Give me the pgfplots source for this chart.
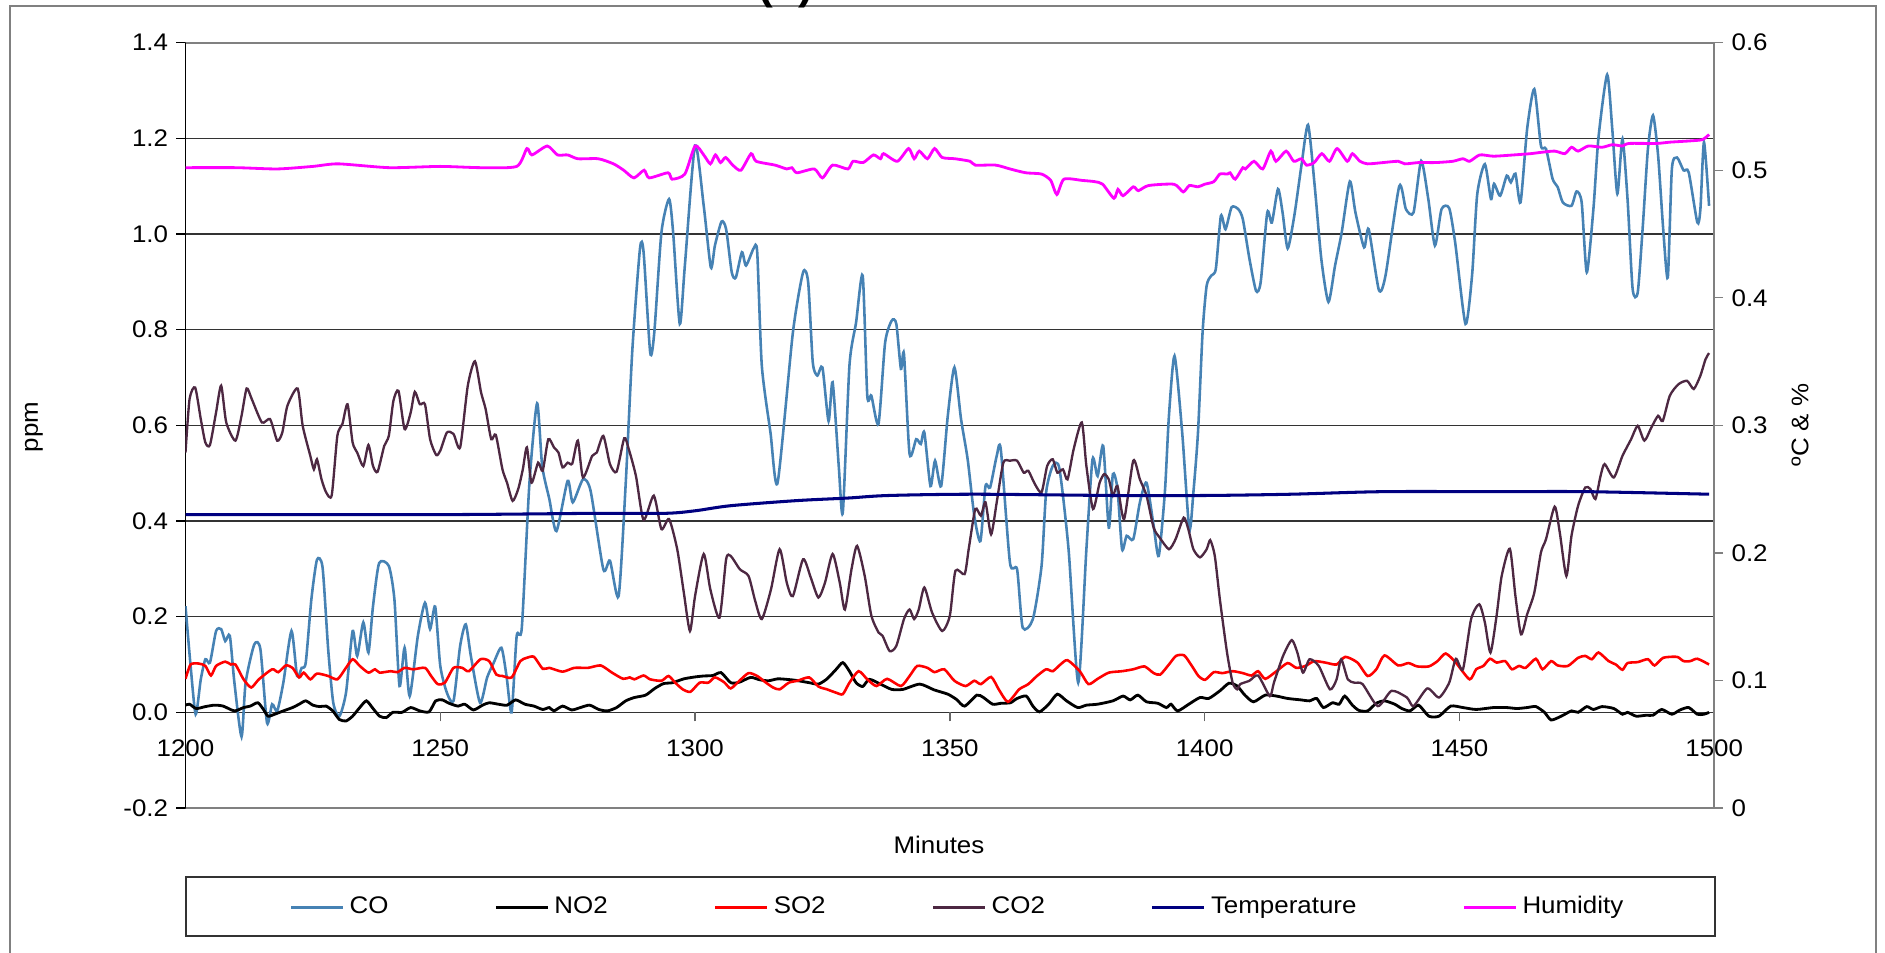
\documentclass[border=0pt]{standalone}
\usepackage{fontspec}
\setmainfont{Liberation Sans}[FakeStretch=1.08]
\usepackage{pgfplots}
\pgfplotsset{compat=1.18}

\definecolor{coblue}{RGB}{70,130,180}
\definecolor{cotwo}{RGB}{77,40,66}
\definecolor{tempblue}{RGB}{0,0,128}
\definecolor{humid}{RGB}{255,0,255}
\definecolor{sored}{RGB}{255,0,0}
\definecolor{framegray}{RGB}{128,128,128}

\begin{document}
\fontsize{10.24pt}{12pt}\selectfont
\begin{tikzpicture}
% chart frame (bottom edge lies outside the page)
\draw[framegray, line width=0.85pt] (0.15,-14.6) -- (0.15,-0.09) -- (28.14,-0.09) -- (28.14,-14.6);

\begin{axis}[
    at={(2.7825cm,-12.12cm)}, anchor=south west,
    scale only axis, width=22.93cm, height=11.48cm,
    xmin=1200, xmax=1500, ymin=-0.2, ymax=1.4,
    axis x line=middle, axis y line=left,
    x axis line style={draw=none},
    y axis line style={-, black, line width=0.6pt},
    hide obscured x ticks=false, hide obscured y ticks=false,
    xtick={1200,1250,1300,1350,1400,1450,1500},
    xticklabels={1200,1250,1300,1350,1400,1450,1500},
    xticklabel style={yshift=-0.15cm},
    ytick={-0.2,0,0.2,0.4,0.6,0.8,1.0,1.2,1.4},
    yticklabels={-0.2,0.0,0.2,0.4,0.6,0.8,1.0,1.2,1.4},
    tick align=outside, major tick length=0.135cm,
    x tick style={black!60, line width=0.6pt},
    y tick style={black, line width=0.6pt},
    ymajorgrids, major grid style={black!80, line width=0.45pt},
    legend columns=6,
    legend style={at={(0.5043,-0.1294)}, anchor=center, draw=none, fill=none,
        nodes={inner sep=0pt},
        /tikz/every even column/.append style={column sep=1.59cm},
        /tikz/every odd column/.append style={column sep=0.075cm}},
    legend image code/.code={\draw[#1, line width=1.3pt] (0cm,0cm) -- (0.78cm,0cm);},
]
% CO
\addplot[coblue, line width=1.1pt, smooth, tension=0.4] coordinates {
(1200,0.222) (1201,0.097) (1202,-0.004) (1203,0.069) (1203.9,0.111) (1204.8,0.104)
(1206,0.170) (1207,0.174) (1207.8,0.149) (1208.7,0.160) (1209.6,0.062) (1211,-0.051)
(1211.8,0.062) (1213.5,0.142) (1214.7,0.132) (1216,-0.022) (1217,0.017) (1218,0.003)
(1219.2,0.062) (1220.8,0.170) (1221.9,0.076) (1222.8,0.093) (1223.6,0.104) (1224.7,0.236)
(1225.8,0.319) (1226.9,0.303) (1228,0.132) (1229,0.020) (1230.2,-0.008) (1231.5,0.041)
(1232.8,0.170) (1233.7,0.118) (1234.9,0.188) (1235.9,0.125) (1236.8,0.222) (1238,0.312)
(1239.9,0.306) (1241,0.236) (1242,0.055) (1243,0.135) (1244,0.034) (1245.6,0.160)
(1247,0.229) (1248,0.174) (1249,0.221) (1250,0.097) (1251.3,0.041) (1252.6,0.024)
(1253.9,0.139) (1255,0.184) (1256,0.118) (1257.8,0.020) (1259.2,0.073) (1260.5,0.104)
(1262,0.135) (1263,0.076) (1264,0.000) (1265,0.160) (1266,0.177) (1267.5,0.480)
(1269,0.646) (1270,0.515) (1271.4,0.446) (1272.8,0.379) (1275,0.484) (1276,0.439)
(1278,0.487) (1279.5,0.463) (1282,0.299) (1283.3,0.317) (1285,0.243) (1286.4,0.480)
(1287.7,0.759) (1289.2,0.970) (1289.9,0.962) (1291.2,0.752) (1292,0.794) (1293.4,1.003)
(1294.9,1.073) (1295.7,1.003) (1297,0.812) (1298,0.934) (1300,1.185) (1301.7,1.059)
(1303.1,0.930) (1303.9,0.976) (1305.2,1.026) (1306.1,1.010) (1307.2,0.920) (1308,0.909)
(1309.2,0.962) (1310,0.934) (1311.5,0.970) (1312.2,0.962) (1313.1,0.725) (1314.8,0.585)
(1316.2,0.480) (1319.2,0.794) (1321.2,0.920) (1322.2,0.899) (1323.1,0.732) (1324,0.704)
(1325,0.721) (1326.2,0.609) (1327,0.690) (1328.2,0.515) (1329,0.418) (1330.3,0.725)
(1331.6,0.815) (1332.9,0.913) (1333.8,0.662) (1334.6,0.662) (1336,0.603) (1337.3,0.773)
(1338.6,0.819) (1339.5,0.812) (1340.4,0.718) (1341,0.749) (1342.1,0.540) (1343.4,0.571)
(1344.3,0.561) (1345,0.585) (1346.2,0.473) (1347.1,0.526) (1348.3,0.473) (1349.6,0.620)
(1350.9,0.721) (1352.2,0.613) (1353.5,0.529) (1354.8,0.411) (1356,0.358) (1357,0.473)
(1357.9,0.470) (1359.2,0.536) (1360,0.550) (1361.8,0.313) (1363.2,0.299) (1364.3,0.177)
(1366.3,0.195) (1368,0.306) (1368.9,0.460) (1370.2,0.515) (1371.5,0.510) (1373.3,0.341)
(1375.2,0.062) (1376.8,0.341) (1378,0.529) (1379,0.494) (1380.1,0.557) (1381.2,0.386)
(1382,0.498) (1382.9,0.467) (1383.8,0.341) (1384.7,0.369) (1386,0.362) (1387.3,0.439)
(1388.6,0.480) (1390,0.390) (1391,0.327) (1392.2,0.460) (1393,0.620) (1394.1,0.745)
(1395.6,0.585) (1397,0.383) (1397.8,0.460) (1398.7,0.585) (1399.6,0.794) (1400.4,0.892)
(1401.3,0.913) (1402.2,0.927) (1403.2,1.038) (1404.1,1.010) (1405.3,1.056) (1406.6,1.052)
(1407.5,1.031) (1408.8,0.948) (1410.1,0.881) (1411,0.899) (1412.3,1.045) (1413.2,1.024)
(1414.4,1.094) (1415.3,1.045) (1416.3,0.970) (1417.6,1.038) (1419,1.143) (1420.3,1.228)
(1421.6,1.101) (1422.9,0.948) (1424.3,0.858) (1425.6,0.934) (1426.9,1.003) (1428.5,1.110)
(1429.6,1.045) (1431.3,0.972) (1432.2,1.010) (1434.2,0.883) (1435.5,0.913) (1438.2,1.100)
(1439.5,1.052) (1441,1.045) (1442.5,1.153) (1443.9,1.073) (1445.2,0.976) (1446.5,1.052)
(1448,1.054) (1449.2,0.980) (1451.2,0.812) (1452.5,0.915) (1453.5,1.083) (1455,1.146)
(1456.2,1.073) (1456.8,1.105) (1458,1.080) (1459.3,1.122) (1460.1,1.108) (1461,1.126)
(1462,1.066) (1463.3,1.220) (1464.7,1.303) (1466,1.185) (1467,1.178) (1468.3,1.115)
(1469.3,1.098) (1470.3,1.066) (1472,1.059) (1473,1.089) (1474,1.066) (1475,0.920)
(1476.3,1.052) (1477.3,1.202) (1479,1.333) (1480,1.220) (1481,1.084) (1482,1.199)
(1483,1.073) (1484,0.885) (1485,0.878) (1486,1.017) (1487,1.178) (1488,1.248)
(1489,1.164) (1490,1.010) (1490.9,0.909) (1491.7,1.136) (1492.7,1.160) (1494,1.133)
(1495,1.129) (1496.7,1.024) (1497.3,1.052) (1498,1.192) (1499,1.059)
};
\addlegendentry{CO}
% NO2
\addplot[black, line width=1.2pt, smooth, tension=0.4] coordinates {
(1200,0.015) (1200.8,0.017) (1202.1,0.008) (1203.9,0.012) (1205.7,0.015) (1207.4,0.013)
(1209.6,0.003) (1211.4,0.010) (1212.7,0.013) (1214.2,0.020) (1215.3,0.006) (1216.2,-0.008)
(1217.5,-0.004) (1219.2,0.003) (1221,0.010) (1222.3,0.017) (1223.6,0.024) (1225,0.015)
(1226.3,0.012) (1227.6,0.013) (1228.9,0.003) (1230.2,-0.015) (1231.5,-0.018) (1232.8,-0.008)
(1234.2,0.010) (1235.5,0.024) (1236.8,0.008) (1238.1,-0.008) (1239.4,-0.011) (1240.7,0.000)
(1242.5,0.000) (1244.2,0.010) (1246,0.003) (1247.8,0.001) (1249.1,0.024) (1250.4,0.026)
(1251.7,0.019) (1253.5,0.013) (1254.8,0.017) (1256.5,0.005) (1258.3,0.015) (1259.6,0.020)
(1261.4,0.017) (1263.1,0.015) (1264.8,0.026) (1266.6,0.017) (1268.4,0.013) (1270.1,0.006)
(1271.4,0.010) (1272.3,0.003) (1274,0.013) (1275.8,0.005) (1277.5,0.010) (1279.3,0.015)
(1281.1,0.006) (1282.8,0.003) (1284.6,0.010) (1286.4,0.024) (1288.1,0.031) (1290.3,0.036)
(1292.1,0.050) (1293.8,0.060) (1295.6,0.062) (1297.8,0.070) (1300,0.074) (1301.7,0.076)
(1303.5,0.077) (1305.1,0.083) (1307,0.062) (1308.7,0.063) (1310.9,0.073) (1312.7,0.068)
(1314.4,0.066) (1316.2,0.070) (1317.9,0.069) (1319.7,0.067) (1322.4,0.062) (1324.2,0.059)
(1325.9,0.070) (1327.7,0.090) (1329,0.104) (1330.3,0.086) (1331.6,0.062) (1332.9,0.054)
(1334.2,0.069) (1336.4,0.059) (1338.6,0.048) (1340.8,0.048) (1344.1,0.059) (1346.9,0.047)
(1349.6,0.038) (1351.3,0.027) (1352.9,0.013) (1355.3,0.036) (1356.6,0.031) (1358.4,0.017)
(1360.1,0.019) (1361.9,0.020) (1363.2,0.029) (1365,0.034) (1366.3,0.013) (1367.6,0.001)
(1369.4,0.017) (1371.1,0.038) (1372.9,0.024) (1375.1,0.010) (1376.8,0.015) (1379,0.017)
(1382,0.024) (1384,0.034) (1385.4,0.026) (1386.9,0.036) (1388.6,0.022) (1390.8,0.019)
(1392.5,0.010) (1393.4,0.017) (1394.7,0.003) (1396.9,0.017) (1399.1,0.031) (1400.8,0.029)
(1403,0.045) (1404.8,0.061) (1406.4,0.055) (1407.9,0.036) (1409.6,0.022) (1411.9,0.036)
(1414.1,0.034) (1416.3,0.029) (1418.9,0.026) (1420.6,0.024) (1422,0.029) (1423.3,0.010)
(1425.1,0.020) (1426.4,0.017) (1427.5,0.034) (1429,0.015) (1430.3,0.004) (1432,0.003)
(1433.7,0.019) (1435.3,0.024) (1437.3,0.017) (1438.7,0.008) (1440.3,0.003) (1442,0.015)
(1444,-0.008) (1446,-0.008) (1448.3,0.013) (1450.7,0.010) (1453.3,0.006) (1456.7,0.010)
(1459.3,0.010) (1461.3,0.008) (1463.3,0.010) (1465,0.012) (1466.7,0.000) (1468,-0.016)
(1470,-0.008) (1472,0.003) (1473.3,0.000) (1475,0.012) (1476.3,0.006) (1478,0.012)
(1480.3,0.008) (1482,-0.004) (1483,0.000) (1484.7,-0.008) (1486.7,-0.006) (1488,-0.006)
(1489.7,0.006) (1491.7,-0.004) (1493.3,0.005) (1495,0.010) (1496.7,-0.004) (1498,-0.004)
(1499,0.000)
};
\addlegendentry{NO2}
% SO2
\addplot[sored, line width=1.1pt, smooth, tension=0.4] coordinates {
(1200,0.070) (1201,0.100) (1202.6,0.102) (1203.9,0.097) (1205,0.077) (1206,0.097)
(1207.8,0.106) (1208.9,0.100) (1209.8,0.100) (1211.4,0.069) (1212.9,0.052) (1214.4,0.069)
(1217,0.090) (1218.2,0.084) (1219.7,0.098) (1221,0.093) (1222.3,0.073) (1223.2,0.083)
(1224.5,0.069) (1225.8,0.081) (1228,0.076) (1229.8,0.069) (1231.3,0.090) (1232.8,0.111)
(1234.2,0.097) (1235.9,0.083) (1237.2,0.090) (1238.1,0.083) (1240.3,0.086) (1241.6,0.084)
(1243,0.093) (1244.7,0.090) (1247,0.093) (1248.2,0.076) (1249.5,0.059) (1250.9,0.062)
(1252.6,0.093) (1254.3,0.093) (1255.6,0.086) (1257.9,0.111) (1259.6,0.107) (1261,0.079)
(1262.2,0.076) (1264,0.073) (1265.7,0.107) (1267,0.114) (1268.4,0.116) (1270.1,0.091)
(1271.4,0.093) (1274,0.085) (1276.3,0.093) (1279,0.093) (1281.5,0.098) (1283.7,0.083)
(1285.9,0.070) (1287.2,0.073) (1288.1,0.069) (1289.9,0.077) (1291.2,0.069) (1293.4,0.066)
(1294.8,0.076) (1296.1,0.062) (1297.6,0.048) (1299.1,0.043) (1300.9,0.062) (1302.6,0.062)
(1303.9,0.073) (1305.7,0.063) (1307,0.050) (1308.7,0.066) (1310.5,0.082) (1312.2,0.076)
(1313.8,0.063) (1315.3,0.052) (1316.6,0.048) (1318.4,0.062) (1320.1,0.066) (1322.4,0.073)
(1324.2,0.054) (1325.9,0.048) (1327.7,0.041) (1329,0.038) (1330.3,0.062) (1332.1,0.086)
(1333.8,0.069) (1335.6,0.055) (1337.7,0.070) (1340.4,0.055) (1342.1,0.076) (1343.6,0.097)
(1345.6,0.093) (1347,0.084) (1348.9,0.090) (1350.9,0.066) (1353.1,0.055) (1354.8,0.066)
(1356.1,0.059) (1358.1,0.074) (1359.6,0.048) (1361.4,0.022) (1363.6,0.048) (1365.4,0.059)
(1367.1,0.076) (1368.9,0.090) (1370.2,0.086) (1371.7,0.100) (1373.1,0.109) (1375.5,0.086)
(1377.2,0.059) (1379,0.070) (1381.2,0.083) (1383.8,0.086) (1386,0.090) (1388.2,0.096)
(1390,0.082) (1391.3,0.079) (1393,0.100) (1394.4,0.118) (1396,0.119) (1397.5,0.097)
(1398.8,0.076) (1400.1,0.068) (1401.8,0.084) (1403.5,0.082) (1405.5,0.086) (1407.5,0.082)
(1409.2,0.077) (1410.5,0.086) (1411.9,0.070) (1414.1,0.086) (1416.3,0.103) (1418,0.093)
(1419.8,0.097) (1421.5,0.107) (1423.7,0.104) (1425.9,0.100) (1427.6,0.116) (1430,0.104)
(1432,0.076) (1433.7,0.090) (1435.3,0.119) (1438,0.098) (1440,0.103) (1441.7,0.096)
(1444,0.096) (1445.7,0.107) (1447.3,0.123) (1449.3,0.104) (1452,0.069) (1453.3,0.090)
(1454.7,0.097) (1456,0.112) (1457.3,0.104) (1459,0.107) (1460.3,0.090) (1461.7,0.097)
(1463,0.093) (1465,0.112) (1466.3,0.090) (1468,0.107) (1469.3,0.098) (1471.3,0.097)
(1473.3,0.114) (1474.7,0.118) (1476,0.111) (1477.3,0.125) (1479.3,0.107) (1480.7,0.100)
(1482,0.089) (1483,0.103) (1485,0.105) (1487,0.111) (1488.3,0.098) (1490,0.114)
(1492.7,0.116) (1494,0.107) (1495.3,0.107) (1496.7,0.112) (1499,0.100)
};
\addlegendentry{SO2}
% CO2
\addplot[cotwo, line width=1.0pt, smooth, tension=0.4] coordinates {
(1200,0.543) (1200.8,0.655) (1201.9,0.679) (1203,0.613) (1203.9,0.564) (1204.8,0.559)
(1206,0.627) (1207,0.683) (1208,0.606) (1209.8,0.568) (1211,0.620) (1212,0.677)
(1213,0.655) (1215,0.606) (1216.6,0.613) (1218,0.568) (1219,0.585) (1220,0.641)
(1222,0.677) (1223,0.599) (1224.5,0.536) (1225.2,0.508) (1225.8,0.529) (1226.7,0.487)
(1227.6,0.460) (1228.7,0.454) (1229.8,0.578) (1230.8,0.603) (1231.8,0.644) (1232.8,0.564)
(1233.7,0.543) (1234.9,0.515) (1235.9,0.559) (1236.8,0.515) (1237.7,0.503) (1239,0.557)
(1239.9,0.578) (1240.8,0.651) (1241.8,0.672) (1243,0.592) (1244.2,0.627) (1245,0.670)
(1246,0.644) (1247,0.644) (1248,0.571) (1249.2,0.538) (1250,0.547) (1251.3,0.585)
(1252.6,0.582) (1253.9,0.554) (1255.4,0.683) (1256.8,0.734) (1258,0.669) (1258.9,0.634)
(1260,0.571) (1260.9,0.580) (1262.2,0.508) (1263.1,0.480) (1264.2,0.442) (1265.3,0.467)
(1266.2,0.508) (1267,0.554) (1267.9,0.480) (1269.2,0.522) (1270.1,0.505) (1271.2,0.571)
(1272.3,0.554) (1273.2,0.543) (1274,0.512) (1275,0.522) (1275.9,0.520) (1277,0.568)
(1278,0.491) (1279.8,0.536) (1280.7,0.543) (1282,0.578) (1283.3,0.519) (1284.6,0.503)
(1286.1,0.573) (1287,0.550) (1288.4,0.494) (1289.9,0.402) (1291.9,0.453) (1293.4,0.383)
(1294.9,0.404) (1296.5,0.341) (1297.8,0.250) (1299,0.170) (1300,0.243) (1301.7,0.331)
(1303,0.257) (1304.8,0.198) (1306.1,0.320) (1307,0.327) (1308.8,0.299) (1310.5,0.285)
(1311.8,0.233) (1313.1,0.195) (1314.9,0.257) (1316.6,0.341) (1318,0.271) (1319.2,0.243)
(1321.2,0.320) (1322.7,0.282) (1324.2,0.240) (1325.5,0.271) (1327,0.331) (1328.4,0.271)
(1329.4,0.215) (1330.7,0.299) (1331.8,0.348) (1333.3,0.285) (1334.6,0.202) (1336,0.167)
(1336.8,0.160) (1338.2,0.128) (1339.5,0.139) (1341,0.195) (1342.1,0.215) (1343,0.195)
(1343.9,0.215) (1345,0.261) (1346.5,0.209) (1348.5,0.170) (1350,0.202) (1351.1,0.296)
(1352.9,0.289) (1353.7,0.341) (1355,0.425) (1356.1,0.411) (1357,0.439) (1358.1,0.372)
(1359.2,0.439) (1360.5,0.522) (1361.8,0.526) (1363.2,0.526) (1364.5,0.501) (1365.4,0.505)
(1366.7,0.477) (1368,0.460) (1369.1,0.515) (1370.2,0.529) (1371.1,0.501) (1372.2,0.508)
(1373.1,0.487) (1374.3,0.550) (1375.9,0.606) (1376.8,0.515) (1378.1,0.425) (1379.4,0.480)
(1380.3,0.498) (1381.2,0.487) (1382,0.453) (1382.9,0.473) (1384.2,0.404) (1386,0.526)
(1387.3,0.487) (1388.6,0.453) (1390,0.386) (1391.2,0.365) (1393,0.341) (1394.3,0.362)
(1395.9,0.407) (1396.8,0.383) (1397.8,0.341) (1399.1,0.324) (1400.4,0.341) (1401.1,0.360)
(1402,0.327) (1403,0.236) (1404.4,0.125) (1405.5,0.062) (1406.4,0.048) (1407,0.059)
(1408.8,0.066) (1410.5,0.077) (1412.8,0.034) (1413.6,0.062) (1415.4,0.118) (1417.1,0.151)
(1418.2,0.125) (1419.3,0.083) (1420.6,0.111) (1422.4,0.097) (1424.6,0.048) (1425.9,0.069)
(1426.8,0.111) (1428.1,0.069) (1429.4,0.062) (1431,0.059) (1434,0.013) (1436.7,0.045)
(1439.7,0.031) (1441,0.013) (1443.7,0.050) (1446,0.031) (1448,0.062) (1449.3,0.112)
(1450.7,0.090) (1452.3,0.195) (1453.9,0.226) (1455,0.188) (1456.1,0.125) (1457.3,0.202)
(1458.3,0.285) (1459.9,0.342) (1461,0.243) (1462.1,0.163) (1463.3,0.205) (1464.7,0.250)
(1466,0.334) (1467,0.362) (1468.7,0.430) (1469.7,0.376) (1471,0.285) (1472,0.369)
(1473.3,0.432) (1474.7,0.470) (1475.7,0.467) (1476.7,0.446) (1477.7,0.494) (1478.5,0.519)
(1480.3,0.491) (1482,0.536) (1483.7,0.571) (1485,0.599) (1486.3,0.568) (1487.7,0.596)
(1489,0.620) (1489.9,0.609) (1491.3,0.662) (1493,0.686) (1494.7,0.693) (1496,0.676)
(1497.3,0.704) (1498.3,0.738) (1499,0.751)
};
\addlegendentry{CO2}
\addlegendimage{tempblue}
\addlegendentry{Temperature}
\addlegendimage{humid}
\addlegendentry{Humidity}
\end{axis}

\begin{axis}[
    at={(2.7825cm,-12.12cm)}, anchor=south west,
    scale only axis, width=22.93cm, height=11.48cm,
    xmin=1200, xmax=1500, ymin=0, ymax=0.6,
    axis x line=box, axis y line=right,
    x axis line style={-, draw=framegray, line width=1pt},
    y axis line style={-, draw=framegray, line width=0.85pt},
    xtick=\empty,
    ytick={0,0.1,0.2,0.3,0.4,0.5,0.6},
    yticklabels={0,0.1,0.2,0.3,0.4,0.5,0.6},
    tick align=outside, major tick length=0.135cm,
    y tick style={framegray, line width=0.6pt},
]
% Temperature
\addplot[tempblue, line width=1.3pt, smooth] coordinates {
(1200,0.230) (1250,0.230) (1280,0.231) (1294,0.231) (1300,0.233) (1307,0.237)
(1320,0.241) (1330,0.243) (1338,0.245) (1355,0.246) (1382,0.245) (1400,0.245)
(1417,0.246) (1435,0.248) (1458,0.248) (1475,0.248) (1499,0.246)
};
% Humidity
\addplot[humid, line width=1.2pt, smooth, tension=0.4] coordinates {
(1200,0.502) (1210,0.502) (1218,0.501) (1225,0.503) (1230,0.505) (1240,0.502)
(1250,0.503) (1258,0.502) (1265,0.503) (1267,0.517) (1268,0.512) (1271,0.519)
(1273,0.512) (1275,0.512) (1277,0.509) (1281,0.509) (1284,0.505) (1286,0.500)
(1288,0.494) (1290,0.500) (1291,0.494) (1294.7,0.498) (1295.5,0.493) (1298,0.497)
(1300,0.519) (1301.7,0.512) (1303,0.505) (1304,0.512) (1305,0.506) (1306,0.510)
(1307.4,0.504) (1309,0.500) (1311,0.513) (1312,0.507) (1315.7,0.504) (1318,0.501)
(1319,0.502) (1320,0.498) (1323.4,0.501) (1325,0.494) (1327,0.504) (1330,0.501)
(1331,0.507) (1333,0.506) (1335,0.512) (1336.4,0.509) (1337,0.513) (1339.7,0.507)
(1341.9,0.517) (1343,0.509) (1344,0.515) (1345.6,0.509) (1347,0.517) (1348.5,0.510)
(1351,0.509) (1354,0.507) (1355,0.504) (1359,0.504) (1361.8,0.501) (1364.9,0.498)
(1368,0.497) (1369.8,0.492) (1371,0.481) (1372.4,0.493) (1376,0.492) (1378.5,0.491)
(1380,0.489) (1382.2,0.478) (1383,0.485) (1384,0.480) (1386,0.487) (1387,0.484)
(1389,0.488) (1394,0.489) (1395.8,0.483) (1397,0.488) (1398.7,0.487) (1400,0.489)
(1401.8,0.491) (1403,0.497) (1404.5,0.497) (1405,0.498) (1406,0.493) (1407.5,0.502)
(1408,0.501) (1409.7,0.507) (1411.4,0.501) (1413,0.515) (1414,0.507) (1416,0.515)
(1417.5,0.507) (1419,0.509) (1420,0.504) (1421.5,0.506) (1423,0.513) (1424.5,0.507)
(1426,0.517) (1428,0.507) (1429,0.513) (1430.5,0.507) (1432,0.505) (1435,0.506)
(1438,0.507) (1439.3,0.505) (1442,0.506) (1445.3,0.506) (1448.7,0.507) (1450.7,0.509)
(1452,0.507) (1454,0.512) (1456.7,0.511) (1460.7,0.512) (1464,0.513) (1466,0.514)
(1468.7,0.515) (1470.7,0.513) (1472,0.518) (1473.3,0.515) (1475.3,0.519) (1478,0.518)
(1480,0.520) (1482,0.519) (1483.3,0.521) (1488.7,0.521) (1491.3,0.522) (1495.3,0.523)
(1497.7,0.524) (1499,0.528)
};
\end{axis}

% legend box
\draw[black!80, line width=0.8pt] (2.79,-13.155) rectangle (25.725,-14.04);
% axis titles
\node[rotate=90] at (0.51,-6.405) {ppm};
\node[rotate=90] at (27.0,-6.375) {ºC \& \%};
\node at (14.085,-12.675) {Minutes};
% chart title, cut off by the top edge as in the original
\node[anchor=base, inner sep=0pt, font=\bfseries\fontsize{17.5pt}{20pt}\selectfont] at (11.79,0.005) {(c)};

\pgfresetboundingbox
\path[use as bounding box] (0,0) rectangle (28.275,-14.295);
\end{tikzpicture}
\end{document}
